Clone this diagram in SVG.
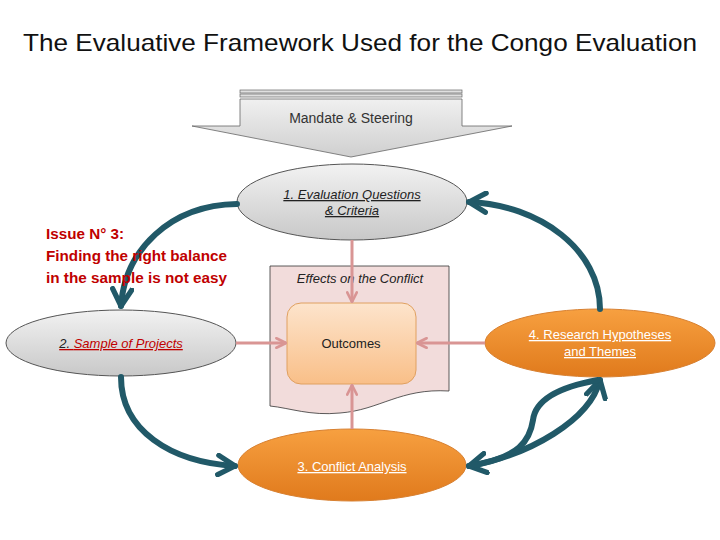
<svg xmlns="http://www.w3.org/2000/svg" width="720" height="540" viewBox="0 0 720 540">
<defs>
<linearGradient id="gray" x1="0" y1="0" x2="0" y2="1"><stop offset="0" stop-color="#f2f2f2"/><stop offset="1" stop-color="#c8c8c8"/></linearGradient>
<linearGradient id="org" x1="0" y1="0" x2="0" y2="1"><stop offset="0" stop-color="#f7a040"/><stop offset="1" stop-color="#e07a1c"/></linearGradient>
<linearGradient id="peach" x1="0" y1="0" x2="0" y2="1"><stop offset="0" stop-color="#fde4cc"/><stop offset="1" stop-color="#f9bf88"/></linearGradient>
<linearGradient id="arr" x1="0" y1="0" x2="0" y2="1"><stop offset="0" stop-color="#f0f0f0"/><stop offset="1" stop-color="#cfcfcf"/></linearGradient>
<marker id="teal" viewBox="0 0 10 10" refX="8" refY="5" markerWidth="4" markerHeight="4" orient="auto-start-reverse"><path d="M1,1 L8,5 L1,9" fill="none" stroke="#215968" stroke-width="2.2" stroke-linecap="round" stroke-linejoin="round"/></marker>
<marker id="pink" viewBox="0 0 10 10" refX="9" refY="5" markerWidth="4" markerHeight="4" orient="auto"><path d="M1,1 L9,5 L1,9" fill="none" stroke="#d99594" stroke-width="2.2" stroke-linecap="round" stroke-linejoin="round"/></marker>
</defs>
<style>
.t{font-family:"Liberation Sans",Arial,sans-serif}
.tl{fill:none;stroke:#215968;stroke-width:6;stroke-linecap:round}
.pk{fill:none;stroke:#d99594;stroke-width:3}
.e{stroke:#555;stroke-width:1}
</style>
<text class="t" x="360" y="51" font-size="24" text-anchor="middle" fill="#111" textLength="674" lengthAdjust="spacingAndGlyphs">The Evaluative Framework Used for the Congo Evaluation</text>
<g id="mandate">
<rect x="240" y="90" width="222" height="3" fill="#e0e0e0" stroke="#666" stroke-width="0.7"/>
<rect x="240" y="94" width="222" height="3" fill="#e0e0e0" stroke="#666" stroke-width="0.7"/>
<path d="M240,99 H462 V126 H512 L351,157 L192,126 H240 Z" fill="url(#arr)" stroke="#666" stroke-width="0.8"/>
<text class="t" x="351" y="123" font-size="14" text-anchor="middle" fill="#333">Mandate &amp; Steering</text>
</g>
<g id="effects">
<path d="M270,266 H449 V391 C400,388 380,410 340,413 C310,416 290,408 270,406 Z" fill="#f2dcdb" stroke="#333" stroke-width="0.8"/>
<text class="t" x="360" y="283" font-size="13" text-anchor="middle" font-style="italic" fill="#222">Effects on the Conflict</text>
</g>
<g id="outcomes">
<rect x="287" y="303" width="129" height="81" rx="14" fill="url(#peach)" stroke="#e0a060" stroke-width="1"/>
<text class="t" x="351" y="348" font-size="13" text-anchor="middle" fill="#222">Outcomes</text>
</g>
<g id="n1">
<ellipse cx="352" cy="202" rx="115" ry="38" fill="url(#gray)" class="e"/>
<text class="t" font-size="13" text-anchor="middle" font-style="italic" fill="#222" text-decoration="underline"><tspan x="352" y="199">1. Evaluation Questions</tspan><tspan x="352" y="215">&amp; Criteria</tspan></text>
</g>
<g id="n2">
<ellipse cx="121" cy="343" rx="115" ry="33" fill="url(#gray)" class="e"/>
<text class="t" x="121" y="348" font-size="13" text-anchor="middle" font-style="italic" text-decoration="underline" fill="#c00000"><tspan fill="#222">2. </tspan>Sample of Projects</text>
</g>
<g id="n3">
<ellipse cx="352" cy="465" rx="114" ry="36" fill="url(#org)" stroke="#d88030"/>
<text class="t" x="352" y="471" font-size="13" text-anchor="middle" fill="#fff" text-decoration="underline">3. Conflict Analysis</text>
</g>
<g id="n4">
<ellipse cx="600" cy="343" rx="115" ry="34" fill="url(#org)" stroke="#d88030"/>
<text class="t" font-size="13" text-anchor="middle" fill="#fff" text-decoration="underline"><tspan x="600" y="339">4. Research Hypotheses</tspan><tspan x="600" y="356">and Themes</tspan></text>
</g>
<g id="connectors">
<path class="pk" d="M352,240 V302" marker-end="url(#pink)"/>
<path class="pk" d="M236,343 H286" marker-end="url(#pink)"/>
<path class="pk" d="M485,343 H417" marker-end="url(#pink)"/>
<path class="pk" d="M352,429 V385" marker-end="url(#pink)"/>
<path class="tl" d="M237,204 C170,205 125,250 121,306" marker-end="url(#teal)"/>
<path class="tl" d="M121,377 C121,430 170,462 235,466" marker-end="url(#teal)"/>
<path class="tl" d="M600,309 C600,250 540,205 469,202" marker-end="url(#teal)"/>
<path class="tl" d="M469,466 C530,455 590,420 600,380" marker-start="url(#teal)" marker-end="url(#teal)"/>
<path class="tl" d="M469,466 C520,458 530,440 533,420 C536,395 570,385 598,380"/>
</g>
<g id="issue">
<text class="t" font-size="15" fill="#c00000" font-weight="bold"><tspan x="46" y="239" textLength="78" lengthAdjust="spacingAndGlyphs">Issue N° 3:</tspan><tspan x="46" y="261" textLength="181" lengthAdjust="spacingAndGlyphs">Finding the right balance</tspan><tspan x="46" y="283" textLength="181" lengthAdjust="spacingAndGlyphs">in the sample is not easy</tspan></text>
</g>
</svg>
